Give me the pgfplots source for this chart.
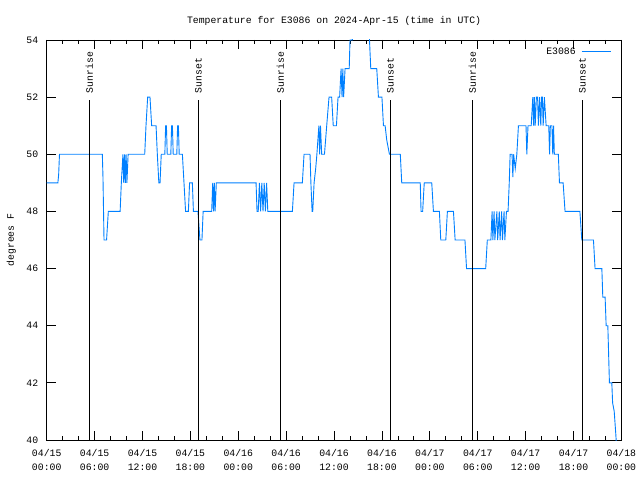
\documentclass[border=0pt]{standalone}
\usepackage{fontspec}
\setmainfont{Liberation Mono}
\usepackage{pgfplots}
\pgfplotsset{compat=1.18}
\definecolor{lineblue}{RGB}{0,128,255}
\begin{document}
\begin{tikzpicture}[font=\fontsize{9.8}{14}\selectfont]
\path[use as bounding box] (0,0) rectangle (640pt,480pt);
\begin{axis}[
  at={(46.7pt,40pt)}, anchor=south west,
  scale only axis, width=574.7pt, height=400pt,
  xmin=0, xmax=72, ymin=40, ymax=54,
  xtick={0,6,...,72},
  xticklabels={{04/15\\00:00},{04/15\\06:00},{04/15\\12:00},{04/15\\18:00},{04/16\\00:00},{04/16\\06:00},{04/16\\12:00},{04/16\\18:00},{04/17\\00:00},{04/17\\06:00},{04/17\\12:00},{04/17\\18:00},{04/18\\00:00}},
  x tick label style={align=center, font=\fontsize{9.8}{14}\selectfont, yshift=-6pt},
  y tick label style={xshift=-5pt},
  minor x tick num=2,
  ytick={40,42,...,54},
  /pgf/number format/assume math mode=true,
  tick align=inside,
  major tick length=9pt, minor tick length=4.5pt,
  every tick/.style={black, line width=0.8pt},
  axis line style={line width=0.9pt},
  title={Temperature for E3086 on 2024-Apr-15 (time in UTC)},
  title style={at={(axis description cs:0.5,1)}, anchor=center, yshift=13pt},
  ylabel={degrees F},
  ylabel style={at={(axis description cs:-0.0616,0.5)}, anchor=center},
  legend style={draw=none, fill=none, at={(1,1)}, anchor=north east, xshift=-7pt, yshift=-3.7pt, font=\fontsize{9.8}{12}\selectfont},
  legend plot pos=right,
  legend cell align=right,
  legend image code/.code={\path[draw=none, fill=none] (0pt,0pt) -- (33pt,0pt); \draw[#1] (4pt,0pt) -- (33pt,0pt);},
]
\addplot[lineblue, line width=0.9pt] coordinates {
(0,49)(1.4,49)(1.5,49.3)(1.6,50)(6.97,50)(7.05,49.2)(7.18,47)(7.5,47)(7.72,48)(9.2,48)(9.35,49)(9.55,50)(9.65,49)(9.75,50)(9.85,49)(9.95,50)(10.05,49)(10.2,50)(12.28,50)(12.44,51)(12.65,52)(12.94,52)(13.15,51)(13.7,51)(13.86,50)(14.05,49)(14.2,49)(14.35,50)(14.8,50)(14.9,51)(15.0,51)(15.1,50)(15.55,50)(15.65,51)(15.75,51)(15.85,50)(16.3,50)(16.4,51)(16.5,51)(16.6,50)(17.0,50)(17.2,49)(17.4,48)(17.75,48)(17.9,49)(18.25,49)(18.38,48)(18.95,48)(19.05,47.6)(19.2,47)(19.45,47)(19.6,48)(20.67,48)(20.8,49)(20.9,48)(21.0,49)(21.1,48)(21.25,49)(26.23,49)(26.35,48)(26.5,48)(26.65,49)(26.8,48)(26.95,49)(27.1,48)(27.25,49)(27.4,48)(27.55,49)(27.7,48)(30.78,48)(30.99,49)(32.03,49)(32.24,50)(32.99,50)(33.1,49)(33.25,48)(33.33,48)(33.5,49)(33.7,49.5)(33.85,50)(34.1,51)(34.2,50)(34.3,51)(34.45,50)(34.8,50)(35.08,51)(35.37,52)(35.7,52)(35.9,51)(36.3,51)(36.5,52)(36.7,52)(36.88,53)(37.0,52)(37.1,53)(37.2,52)(37.38,53)(37.9,53)(38.0,54)(38.3,54)(38.43,55)(40.3,55)(40.44,54)(40.6,53)(41.35,53)(41.56,52)(42.0,52)(42.19,51)(42.4,51)(42.6,50.5)(42.94,50)(44.3,50)(44.48,49)(46.8,49)(46.9,48)(47.1,48)(47.3,49)(48.24,49)(48.45,48)(49.2,48)(49.37,47)(50.0,47)(50.2,48)(50.96,48)(51.17,47)(52.4,47)(52.6,46)(55.0,46)(55.2,47)(55.65,47)(55.8,48)(55.9,47)(56.05,48)(56.15,47)(56.4,48)(56.5,47)(56.7,48)(56.8,47)(57.0,48)(57.1,47)(57.3,48)(57.4,47)(57.6,48)(57.8,48)(57.95,49)(58.06,50)(58.3,50)(58.4,49.2)(58.5,50)(58.7,49.5)(58.9,50)(59.1,51)(60.05,51)(60.15,50)(60.3,51)(60.7,51)(60.9,52)(61.0,51)(61.1,52)(61.2,51)(61.35,52)(61.5,52)(61.6,51)(61.75,52)(61.9,51)(62.0,52)(62.1,52)(62.2,51)(62.35,52)(62.57,51)(62.9,51)(63.0,50)(63.1,51)(63.3,51)(63.4,50)(63.5,51)(63.6,50)(64.1,50)(64.24,49)(64.7,49)(64.94,48)(66.8,48)(67.04,47)(68.5,47)(68.7,46)(69.55,46)(69.67,45)(69.96,45)(70.09,44)(70.3,44)(70.4,43)(70.5,42)(70.8,42)(70.9,41.3)(71.1,41)(71.3,40.2)(71.45,39.5)
};
\addlegendentry{E3086}
\addplot[black, line width=0.9pt, forget plot] coordinates {(5.34,40)(5.34,51.9)};
\addplot[black, line width=0.9pt, forget plot] coordinates {(19.0,40)(19.0,51.9)};
\addplot[black, line width=0.9pt, forget plot] coordinates {(29.28,40)(29.28,51.9)};
\addplot[black, line width=0.9pt, forget plot] coordinates {(43.06,40)(43.06,51.9)};
\addplot[black, line width=0.9pt, forget plot] coordinates {(53.34,40)(53.34,51.9)};
\addplot[black, line width=0.9pt, forget plot] coordinates {(67.12,40)(67.12,51.9)};
\node[rotate=90, anchor=west, inner sep=1pt] at (axis cs:5.34,52.1) {Sunrise};
\node[rotate=90, anchor=west, inner sep=1pt] at (axis cs:19.0,52.1) {Sunset};
\node[rotate=90, anchor=west, inner sep=1pt] at (axis cs:29.28,52.1) {Sunrise};
\node[rotate=90, anchor=west, inner sep=1pt] at (axis cs:43.06,52.1) {Sunset};
\node[rotate=90, anchor=west, inner sep=1pt] at (axis cs:53.34,52.1) {Sunrise};
\node[rotate=90, anchor=west, inner sep=1pt] at (axis cs:67.12,52.1) {Sunset};
\end{axis}
\end{tikzpicture}
\end{document}
